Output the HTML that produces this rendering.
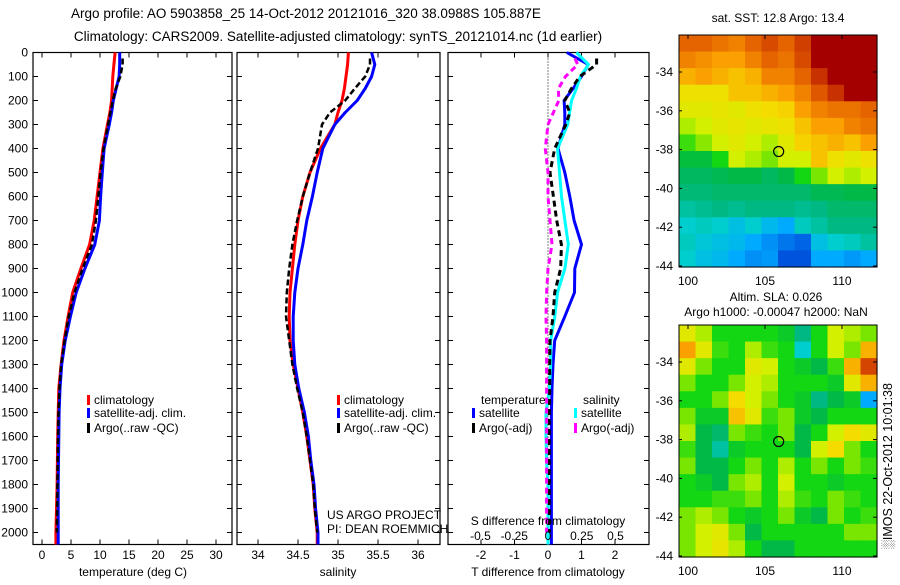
<!DOCTYPE html>
<html><head><meta charset="utf-8"><style>
body{margin:0;background:#fff;width:900px;height:580px;overflow:hidden}
svg{font-family:"Liberation Sans",sans-serif;font-size:12px}
</style></head><body>
<svg id="s" width="900" height="580"></svg>
<script>
// ===== Profile data =====
const depths=[0,50,100,150,200,250,300,400,500,600,700,800,900,1000,1100,1200,1300,1400,1500,1600,1700,1800,1900,2000,2050];
const tempClim=[12.6,12.4,12.2,12.1,12.0,11.7,11.3,10.5,10.0,9.5,9.0,8.2,6.7,5.3,4.5,3.8,3.3,2.9,2.8,2.7,2.65,2.6,2.5,2.4,2.4];
const tempSat=[13.4,13.4,13.3,12.8,12.3,12.0,11.6,10.7,10.4,10.1,9.9,9.1,7.4,5.9,4.9,4.0,3.4,3.1,2.95,2.9,2.85,2.8,2.8,2.8,2.8];
const argoDepths=[25,50,100,150,200,250,300,400,500,600,700,800,900,1000,1100,1200,1300,1400,1500,1600,1700,1800,1900,2000];
const tempArgo=[13.9,13.9,13.5,12.7,12.2,11.8,11.4,10.6,10.1,9.7,9.3,8.6,7.0,5.6,4.6,3.9,3.3,3.0,2.85,2.75,2.7,2.65,2.6,2.55];
const salClim=[35.13,35.12,35.1,35.08,35.05,35.0,34.96,34.78,34.65,34.56,34.5,34.46,34.43,34.4,34.39,34.4,34.44,34.5,34.56,34.61,34.65,34.69,34.71,34.74,34.74];
const salSat=[35.42,35.46,35.42,35.34,35.24,35.09,34.96,34.81,34.74,34.68,34.61,34.56,34.5,34.46,34.44,34.44,34.46,34.51,34.58,34.63,34.66,34.7,34.72,34.75,34.75];
const salArgo=[35.4,35.4,35.34,35.21,35.09,34.9,34.8,34.75,34.65,34.56,34.49,34.43,34.39,34.36,34.35,34.39,34.43,34.49,34.56,34.61,34.65,34.69,34.71,34.74];
const dTsat=[0.56,1.2,1.0,0.75,0.48,0.5,0.5,0.3,0.5,0.65,0.78,1.0,0.8,0.79,0.5,0.2,0.15,0.12,0.1,0.1,0.1,0.1,0.1,0.1,0.1];
const dSsat=[0.21,0.3,0.24,0.21,0.175,0.16,0.146,0.07,0.085,0.1,0.125,0.15,0.125,0.07,0.05,0.02,0.02,0.01,-0.015,-0.015,-0.01,0.0,0.0,0.0,0.0];
const dTargo=[1.45,1.45,0.95,0.7,0.5,0.65,0.53,0.2,0.06,0.16,0.26,0.4,0.38,0.2,0.15,0.06,0.05,0.05,0.04,0.04,0.04,0.04,0.04,0.04];
const dSargo=[0.2,0.22,0.13,0.077,0.08,0.04,0.0,-0.02,0.0,0.0,0.015,0.03,0.0,-0.01,-0.015,-0.01,-0.01,-0.01,-0.01,-0.01,-0.01,-0.01,-0.01,-0.01];
const depthTicks=[0,100,200,300,400,500,600,700,800,900,1000,1100,1200,1300,1400,1500,1600,1700,1800,1900,2000];
const tempTicks=[0,5,10,15,20,25,30];
const salTicks=[34,34.5,35,35.5,36];
const tdTicks=[-2,-1,0,1,2];
const sdTicks=[-0.5,-0.25,0,0.25,0.5];
const sdTickLabels=["-0.5","-0.25","0","0.25","0.5"];
// ===== Map data (colormap fraction) =====
const sstGrid=[
[.8,.8,.78,.76,.8,.84,.8,.86,1,1,1,1],
[.76,.74,.72,.72,.76,.8,.78,.84,1,1,1,1],
[.7,.72,.7,.68,.7,.76,.76,.8,.88,1,1,1],
[.64,.64,.64,.68,.68,.7,.72,.76,.82,.88,1,1],
[.62,.62,.63,.62,.64,.65,.66,.72,.76,.78,.78,.8],
[.58,.6,.62,.63,.62,.63,.64,.68,.72,.72,.76,.78],
[.52,.56,.6,.62,.6,.58,.62,.66,.68,.7,.68,.72],
[.46,.46,.5,.6,.58,.55,.6,.6,.68,.64,.62,.64],
[.43,.43,.44,.45,.45,.43,.45,.5,.55,.6,.58,.6],
[.41,.41,.42,.42,.42,.42,.42,.42,.44,.44,.45,.45],
[.38,.39,.4,.39,.4,.4,.4,.39,.4,.42,.42,.42],
[.35,.36,.35,.33,.35,.32,.3,.36,.38,.4,.4,.4],
[.36,.34,.33,.32,.3,.27,.24,.22,.33,.35,.36,.38],
[.35,.33,.32,.3,.27,.28,.2,.2,.3,.3,.28,.3]];
const slaGrid=[
[.62,.58,.5,.5,.5,.5,.48,.4,.5,.6,.58,.55],
[.72,.62,.52,.5,.58,.52,.5,.35,.5,.6,.55,.7],
[.62,.55,.5,.5,.62,.6,.5,.48,.45,.52,.7,.85],
[.55,.5,.5,.55,.6,.58,.5,.5,.5,.48,.62,.7],
[.5,.5,.55,.65,.6,.55,.5,.48,.4,.45,.48,.3],
[.55,.48,.48,.68,.62,.52,.55,.48,.45,.5,.5,.5],
[.58,.45,.42,.55,.52,.5,.55,.45,.5,.6,.65,.62],
[.52,.45,.38,.48,.5,.5,.5,.45,.6,.65,.55,.5],
[.55,.45,.45,.5,.55,.5,.58,.5,.55,.5,.55,.52],
[.5,.48,.45,.55,.58,.5,.6,.5,.5,.48,.5,.5],
[.5,.5,.52,.52,.55,.5,.58,.52,.5,.55,.52,.5],
[.55,.58,.55,.5,.48,.5,.55,.48,.45,.55,.5,.52],
[.55,.6,.62,.55,.45,.5,.5,.5,.5,.5,.55,.55],
[.55,.6,.63,.58,.5,.45,.45,.5,.5,.5,.5,.5]];
const lonTicks=[100,105,110];
const latTicks=[-34,-36,-38,-40,-42,-44];
const argoLon=105.887, argoLat=-38.0988;

const S=document.getElementById('s');
const NS='http://www.w3.org/2000/svg';
function el(t,a,p){const e=document.createElementNS(NS,t);for(const k in a)e.setAttribute(k,a[k]);(p||S).appendChild(e);return e;}
function txt(x,y,s,anchor,extra){const e=el('text',Object.assign({x:x,y:y,'text-anchor':anchor||'start',fill:'#000'},extra||{}));e.textContent=s;return e;}
const yD=d=>52.5+d*0.24;
const pTop=52.5,pBot=544.5;

function panel(x0,x1,name){
  const g=el('g',{});
  
  
  el('rect',{x:x0,y:pTop,width:x1-x0,height:pBot-pTop,fill:'#fff',stroke:'#000','stroke-width':1.2},g);
  depthTicks.forEach(d=>{const y=yD(d);
    el('line',{x1:x0,x2:x0+5,y1:y,y2:y,stroke:'#000'},g);
    el('line',{x1:x1-5,x2:x1,y1:y,y2:y,stroke:'#000'},g);});
  return g;
}
function line(xs,ds,xf,color,w,dash,name,g){
  const pts=xs.map((v,i)=>xf(v).toFixed(1)+','+yD(ds[i]).toFixed(1)).join(' ');
  const p=el('polyline',{points:pts,fill:'none',stroke:color,'stroke-width':w,'stroke-dasharray':dash||'none','stroke-linejoin':'round'},g);
  
  
}
let t1=txt(306,18,"Argo profile: AO 5903858_25 14-Oct-2012 20121016_320 38.0988S 105.887E",'middle',{'font-size':'13.5px'});


let t2=txt(338,41,"Climatology: CARS2009. Satellite-adjusted climatology: synTS_20121014.nc (1d earlier)",'middle',{'font-size':'13.5px'});



// Panel 1 temperature
const xT=v=>42+v*5.8;
const g1=panel(33,232,'temperature-panel');
depthTicks.forEach(d=>{const l=txt(28,yD(d)+4,String(d),'end');
  
  });
tempTicks.forEach(v=>{const x=xT(v);el('line',{x1:x,x2:x,y1:pTop,y2:pTop+5,stroke:'#000'},g1);el('line',{x1:x,x2:x,y1:pBot-5,y2:pBot,stroke:'#000'},g1);txt(x,559,String(v),'middle');});
line(tempClim,depths,xT,'#f00',3,null,'temp-climatology-line',g1);
line(tempSat,depths,xT,'#00f',3,null,'temp-satellite-line',g1);
line(tempArgo,argoDepths,xT,'#000',2.5,'6,3','temp-argo-line',g1);
txt(133,576,'temperature (deg C)','middle');
function legend(x,y,color,label,g){const r=el('rect',{x:x,y:y-9,width:3,height:10,fill:color},g);
  
  
  txt(x+7,y,label);}
legend(87,404,'#f00','climatology',g1);legend(87,417,'#00f','satellite-adj. clim.',g1);legend(87,432,'#000','Argo(..raw -QC)',g1);

// Panel 2 salinity
const xS=v=>258+(v-34)*80;
const g2=panel(237,440,'salinity-panel');
salTicks.forEach(v=>{const x=xS(v);el('line',{x1:x,x2:x,y1:pTop,y2:pTop+5,stroke:'#000'},g2);el('line',{x1:x,x2:x,y1:pBot-5,y2:pBot,stroke:'#000'},g2);txt(x,559,String(v),'middle');});
line(salClim,depths,xS,'#f00',3,null,'sal-climatology-line',g2);
line(salSat,depths,xS,'#00f',3,null,'sal-satellite-line',g2);
line(salArgo,argoDepths,xS,'#000',2.5,'6,3','sal-argo-line',g2);
txt(338,576,'salinity','middle');
legend(337,404,'#f00','climatology',g2);legend(337,417,'#00f','satellite-adj. clim.',g2);legend(337,432,'#000','Argo(..raw -QC)',g2);
txt(327,519,'US ARGO PROJECT');txt(327,533,'PI: DEAN ROEMMICH');

// Panel 3 differences
const xDT=v=>548+v*33.5, xDS=v=>548+v*135;
const g3=panel(448,649,'difference-panel');
el('line',{x1:548,x2:548,y1:pTop,y2:pBot,stroke:'#000','stroke-dasharray':'1,2'},g3);
tdTicks.forEach(v=>{const x=xDT(v);el('line',{x1:x,x2:x,y1:pTop,y2:pTop+5,stroke:'#000'},g3);el('line',{x1:x,x2:x,y1:pBot-5,y2:pBot,stroke:'#000'},g3);txt(x,559,String(v),'middle');});
line(dTsat,depths,xDT,'#00f',3,null,'tdiff-satellite-line',g3);
line(dSsat,depths,xDS,'#0ff',3,null,'sdiff-satellite-line',g3);
line(dTargo,argoDepths,xDT,'#000',3,'6,4','tdiff-argo-line',g3);
line(dSargo,argoDepths,xDS,'#f0f',3,'6,4','sdiff-argo-line',g3);
sdTicks.forEach((v,i)=>txt(xDS(v),540,sdTickLabels[i],'middle'));
txt(548,525,'S difference from climatology','middle');
txt(548,576,'T difference from climatology','middle');
txt(481,404,'temperature');txt(583,404,'salinity');
legend(472,417,'#00f','satellite',g3);legend(472,432,'#000','Argo(-adj)',g3);
legend(574,417,'#0ff','satellite',g3);legend(574,432,'#f0f','Argo(-adj)',g3);

// custom colormap stops
const cmStops=[[0.15,[0,40,200]],[0.22,[0,100,230]],[0.3,[0,170,255]],[0.35,[0,205,205]],[0.4,[0,185,130]],[0.45,[0,185,70]],[0.5,[20,215,20]],[0.55,[120,230,0]],[0.6,[210,240,0]],[0.65,[245,220,0]],[0.72,[250,160,0]],[0.8,[230,100,0]],[0.88,[200,50,0]],[1.0,[165,0,0]]];
function cmap(v){
  if(v<=cmStops[0][0])return 'rgb('+cmStops[0][1].join(',')+')';
  for(let i=1;i<cmStops.length;i++){if(v<=cmStops[i][0]){const a=cmStops[i-1],b=cmStops[i],t=(v-a[0])/(b[0]-a[0]);
    return 'rgb('+a[1].map((c,k)=>Math.round(c+(b[1][k]-c)*t)).join(',')+')';}}
  return 'rgb(165,0,0)';}
const mx0=679,mx1=877;
const lonX=l=>688+(l-100)*15.4;
function map(grid,y0,y1,name){
  const g=el('g',{});
  
  
  const rows=grid.length,cols=grid[0].length,cw=(mx1-mx0)/cols,ch=(y1-y0)/rows;
  grid.forEach((row,r)=>row.forEach((v,c)=>{
    const cell=el('rect',{x:(mx0+c*cw).toFixed(2),y:(y0+r*ch).toFixed(2),width:(cw+0.6).toFixed(2),height:(ch+0.6).toFixed(2),fill:cmap(v)},g);
    
    }));
  el('rect',{x:mx0,y:y0,width:mx1-mx0,height:y1-y0,fill:'none',stroke:'#000'},g);
  lonTicks.forEach(l=>{const x=lonX(l);el('line',{x1:x,x2:x,y1:y0,y2:y0+4,stroke:'#000'},g);txt(x,y1+18,String(l),'middle');});
  latTicks.forEach(l=>{const y=y0+37+(-34-l)*19.4;el('line',{x1:mx1-4,x2:mx1,y1:y,y2:y,stroke:'#000'},g);el('line',{x1:mx0,x2:mx0+3,y1:y,y2:y,stroke:'#000'},g);txt(673,y+4,String(l),'end');});
  const cy=y0+37+(-34-argoLat)*19.4;
  const c=el('circle',{cx:lonX(argoLon),cy:cy,r:5,fill:'none',stroke:'#000','stroke-width':1.2},g);
  
  
}
map(sstGrid,35,267,'sst-map');
map(slaGrid,325,557,'sla-map');
txt(778,22,'sat. SST: 12.8 Argo: 13.4','middle');
txt(776,301,'Altim. SLA: 0.026','middle');
txt(776,316,'Argo h1000: -0.00047 h2000: NaN','middle');
const v=txt(0,0,'\u2591IMOS 22-Oct-2012 10:01:38','middle',{transform:'translate(892,466) rotate(-90)','font-size':'12.5px'});


</script>
</body></html>
